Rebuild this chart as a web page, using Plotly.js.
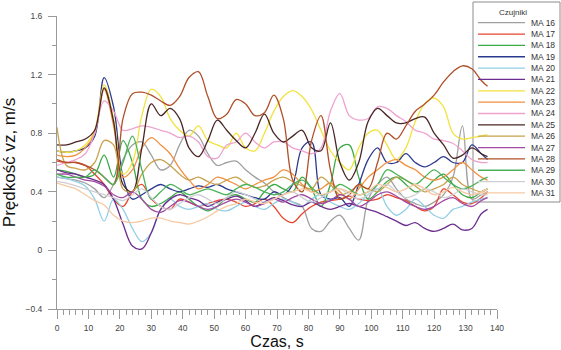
<!DOCTYPE html>
<html>
<head>
<meta charset="utf-8">
<script src="https://cdn.plot.ly/plotly-3.0.1.min.js"></script>
<style>html,body{margin:0;padding:0;background:#fff;}#chart{width:561px;height:350px;}</style>
</head>
<body>
<div id="chart"></div>
<script>
// Time samples (s)
const time = [0,3,6,9,12,15,18,21,24,27,30,33,36,39,42,45,48,51,54,57,60,63,66,69,72,75,78,81,84,87,90,93,96,99,102,105,108,111,114,117,120,123,126,129,132,135,137];

const ma16 = [0.50,0.49,0.48,0.46,0.42,0.36,0.45,0.62,0.72,0.74,0.65,0.55,0.58,0.72,0.82,0.78,0.66,0.58,0.60,0.61,0.55,0.50,0.46,0.40,0.36,0.33,0.30,0.15,0.13,0.20,0.24,0.15,0.07,0.35,0.45,0.50,0.42,0.35,0.32,0.30,0.33,0.38,0.50,0.85,0.35,0.38,0.40];
const ma17 = [0.61,0.60,0.60,0.58,0.52,0.45,0.35,0.30,0.40,0.45,0.35,0.30,0.28,0.35,0.33,0.30,0.32,0.34,0.35,0.33,0.30,0.32,0.35,0.30,0.22,0.19,0.25,0.30,0.33,0.34,0.35,0.37,0.35,0.34,0.35,0.38,0.36,0.34,0.30,0.27,0.30,0.42,0.38,0.33,0.32,0.36,0.40];
const ma18 = [0.55,0.54,0.52,0.50,0.52,0.65,0.50,0.75,0.60,0.35,0.30,0.32,0.36,0.40,0.35,0.30,0.27,0.30,0.36,0.38,0.35,0.33,0.40,0.45,0.42,0.40,0.50,0.42,0.30,0.45,0.70,0.72,0.50,0.35,0.40,0.47,0.50,0.45,0.40,0.42,0.48,0.52,0.45,0.38,0.36,0.40,0.42];
const ma19 = [0.68,0.67,0.68,0.70,0.78,1.18,0.98,0.50,0.35,0.38,0.42,0.45,0.42,0.40,0.42,0.44,0.43,0.45,0.42,0.40,0.38,0.36,0.35,0.40,0.38,0.45,0.70,0.74,0.38,0.35,0.36,0.30,0.45,0.62,0.70,0.60,0.60,0.66,0.60,0.57,0.60,0.64,0.60,0.60,0.72,0.66,0.62];
const ma20 = [0.50,0.49,0.47,0.44,0.35,0.20,0.35,0.28,0.15,0.06,0.12,0.28,0.35,0.30,0.28,0.30,0.32,0.28,0.27,0.30,0.33,0.30,0.28,0.32,0.35,0.33,0.30,0.35,0.38,0.33,0.30,0.28,0.32,0.38,0.42,0.30,0.24,0.28,0.35,0.30,0.24,0.22,0.28,0.30,0.33,0.35,0.36];
const ma21 = [0.55,0.53,0.52,0.50,0.48,0.45,0.35,0.18,0.03,0.01,0.12,0.28,0.35,0.38,0.36,0.34,0.30,0.33,0.35,0.37,0.34,0.30,0.33,0.36,0.34,0.31,0.30,0.33,0.30,0.28,0.30,0.32,0.30,0.28,0.26,0.23,0.20,0.17,0.19,0.15,0.13,0.15,0.18,0.14,0.15,0.25,0.28];
const ma22 = [0.68,0.67,0.68,0.72,0.82,1.13,0.90,0.52,0.60,0.92,1.10,1.05,0.90,0.82,0.78,0.85,0.75,0.72,0.70,0.80,0.70,0.68,0.80,0.95,1.05,1.09,1.05,0.96,0.82,0.68,0.60,0.55,0.70,0.80,0.82,0.72,0.62,0.70,0.88,1.00,1.04,0.98,0.80,0.76,0.77,0.78,0.79];
const ma23 = [0.65,0.64,0.65,0.70,0.80,1.10,0.85,0.50,0.55,0.70,0.77,0.72,0.66,0.56,0.48,0.42,0.45,0.50,0.48,0.45,0.42,0.45,0.48,0.50,0.55,0.52,0.45,0.40,0.42,0.46,0.40,0.35,0.42,0.50,0.55,0.60,0.62,0.58,0.55,0.50,0.48,0.50,0.55,0.60,0.55,0.50,0.48];
const ma24 = [0.58,0.60,0.62,0.66,0.80,1.02,0.95,0.82,0.83,0.85,0.84,0.82,0.80,0.77,0.78,0.74,0.64,0.63,0.72,0.74,0.80,0.74,0.70,0.74,0.74,0.70,0.68,0.66,0.70,0.95,1.07,0.92,0.89,0.90,0.98,0.97,0.92,0.88,0.82,0.80,0.76,0.75,0.73,0.68,0.62,0.60,0.60];
const ma25 = [0.72,0.72,0.74,0.76,0.82,1.11,0.88,0.45,0.40,0.70,1.00,0.92,0.97,0.90,0.70,0.64,0.75,0.89,0.82,0.75,0.70,0.80,0.93,0.80,0.74,0.78,0.82,0.70,0.68,0.87,0.60,0.48,0.60,0.88,0.97,0.92,0.87,0.87,0.90,0.91,0.80,0.72,0.63,0.65,0.70,0.66,0.64];
const ma26 = [0.84,0.58,0.56,0.55,0.60,0.75,0.72,0.42,0.40,0.52,0.60,0.62,0.58,0.52,0.48,0.50,0.47,0.45,0.48,0.50,0.46,0.43,0.44,0.48,0.50,0.47,0.44,0.42,0.50,0.45,0.38,0.40,0.44,0.42,0.40,0.45,0.50,0.48,0.44,0.40,0.42,0.45,0.50,0.45,0.42,0.40,0.42];
const ma27 = [0.52,0.52,0.50,0.48,0.47,0.44,0.38,0.36,0.40,0.35,0.28,0.26,0.30,0.34,0.33,0.30,0.28,0.30,0.33,0.35,0.33,0.30,0.32,0.35,0.33,0.36,0.38,0.35,0.32,0.34,0.38,0.35,0.30,0.33,0.38,0.40,0.37,0.33,0.30,0.28,0.30,0.34,0.36,0.32,0.30,0.34,0.36];
const ma28 = [0.62,0.60,0.60,0.58,0.55,0.50,0.45,0.90,1.07,1.08,1.06,1.02,0.99,1.05,1.18,1.22,1.05,0.90,0.93,1.03,1.00,0.92,0.94,1.06,0.90,0.48,0.40,0.75,0.92,0.55,0.35,0.38,0.45,0.42,0.60,0.80,0.76,0.85,0.95,1.00,1.06,1.15,1.22,1.26,1.24,1.16,1.12];
const ma29 = [0.52,0.50,0.50,0.50,0.55,0.50,0.45,0.60,0.78,0.55,0.35,0.40,0.45,0.42,0.38,0.40,0.42,0.40,0.38,0.42,0.45,0.43,0.40,0.38,0.40,0.45,0.48,0.43,0.38,0.40,0.45,0.42,0.38,0.40,0.45,0.55,0.52,0.48,0.45,0.50,0.55,0.50,0.45,0.42,0.44,0.48,0.50];
const ma30 = [0.47,0.46,0.44,0.42,0.40,0.38,0.36,0.34,0.38,0.42,0.36,0.30,0.28,0.32,0.36,0.38,0.35,0.32,0.36,0.40,0.38,0.35,0.33,0.35,0.38,0.40,0.36,0.33,0.36,0.40,0.42,0.38,0.35,0.38,0.42,0.45,0.40,0.36,0.38,0.42,0.40,0.36,0.38,0.42,0.40,0.38,0.38];
const ma31 = [0.46,0.44,0.42,0.38,0.34,0.31,0.24,0.20,0.19,0.20,0.22,0.22,0.20,0.19,0.18,0.20,0.23,0.27,0.30,0.32,0.35,0.33,0.32,0.35,0.38,0.40,0.42,0.40,0.38,0.40,0.42,0.40,0.38,0.40,0.45,0.43,0.40,0.42,0.45,0.42,0.38,0.40,0.43,0.40,0.38,0.40,0.42];

const seriesNames = ["MA 16","MA 17","MA 18","MA 19","MA 20","MA 21","MA 22","MA 23","MA 24","MA 25","MA 26","MA 27","MA 28","MA 29","MA 30","MA 31"];
const seriesValues = [ma16,ma17,ma18,ma19,ma20,ma21,ma22,ma23,ma24,ma25,ma26,ma27,ma28,ma29,ma30,ma31];
const seriesColors = ["#a0a0a0","#e8452c","#3aaa45","#2b3a8e","#92cfe6","#6c2d8e","#f2e23c","#f39040","#eea3cf","#4a2626","#c9a24c","#a34aa3","#b0502a","#4cb25a","#cfcfd6","#f7c9a2"];

const traces = seriesNames.map((n,i)=>({
  type:'scatter', mode:'lines', name:n, x:time, y:seriesValues[i],
  line:{color:seriesColors[i], width:1.3, shape:'spline', smoothing:1}, showlegend:false, hoverinfo:'skip'
}));

// plot area in px: x 57..497, y 16..309
const L=57, R=497, T=16, B=309;
const px = v => (v-L)/(R-L);
const py = v => (B-v)/(B-T);

const shapes = [{type:'rect', xref:'paper', yref:'paper', x0:px(473), x1:px(560), y0:py(202), y1:py(2), line:{color:'#8c8c8c', width:1}, fillcolor:'rgba(255,255,255,0)', layer:'below'}];
const annotations = [{xref:'paper', yref:'paper', x:px(513), y:py(12), text:'Czujniki', showarrow:false, xanchor:'center', yanchor:'middle', font:{family:'Arial, Liberation Sans', size:8, color:'#333'}}];
seriesNames.forEach((n,i)=>{
  const yy = 22.7 + i*11.35;
  shapes.push({type:'line', xref:'paper', yref:'paper', x0:px(478), x1:px(525), y0:py(yy), y1:py(yy), line:{color:seriesColors[i], width:1.3}});
  annotations.push({xref:'paper', yref:'paper', x:px(529), y:py(yy), text:n, showarrow:false, xanchor:'left', yanchor:'middle', font:{family:'Arial, Liberation Sans', size:8.5, color:'#333'}});
});

const layout = {
  width:561, height:350,
  margin:{l:L, r:561-R, t:T, b:350-B},
  paper_bgcolor:'#fff', plot_bgcolor:'#fff',
  font:{family:'Arial, Liberation Sans', color:'#444'},
  showlegend:false,
  xaxis:{range:[0,140], dtick:10, tick0:0, showgrid:false, zeroline:false, showline:true, linecolor:'#9a9a9a', linewidth:1,
    ticks:'outside', ticklen:9, tickcolor:'#9a9a9a', tickfont:{size:8.5, color:'#444'}, ticklabelstandoff:2,
    minor:{dtick:2, ticks:'outside', ticklen:5, tickcolor:'#9a9a9a', showgrid:false},
    title:{text:'Czas, s', font:{size:16, color:'#111'}, standoff:9}},
  yaxis:{range:[-0.4,1.6], dtick:0.4, tick0:-0.4, showgrid:false, zeroline:false, showline:true, linecolor:'#9a9a9a', linewidth:1,
    ticks:'outside', ticklen:8, tickcolor:'#9a9a9a', tickfont:{size:8.5, color:'#444'}, ticklabelstandoff:4,
    minor:{dtick:0.2, ticks:'outside', ticklen:4, tickcolor:'#9a9a9a', showgrid:false},
    title:{text:'Prędkość vz, m/s', font:{size:17, color:'#111'}, standoff:6}},
  shapes:shapes, annotations:annotations
};
Plotly.newPlot('chart', traces, layout, {displayModeBar:false, staticPlot:true});
</script>
</body>
</html>
